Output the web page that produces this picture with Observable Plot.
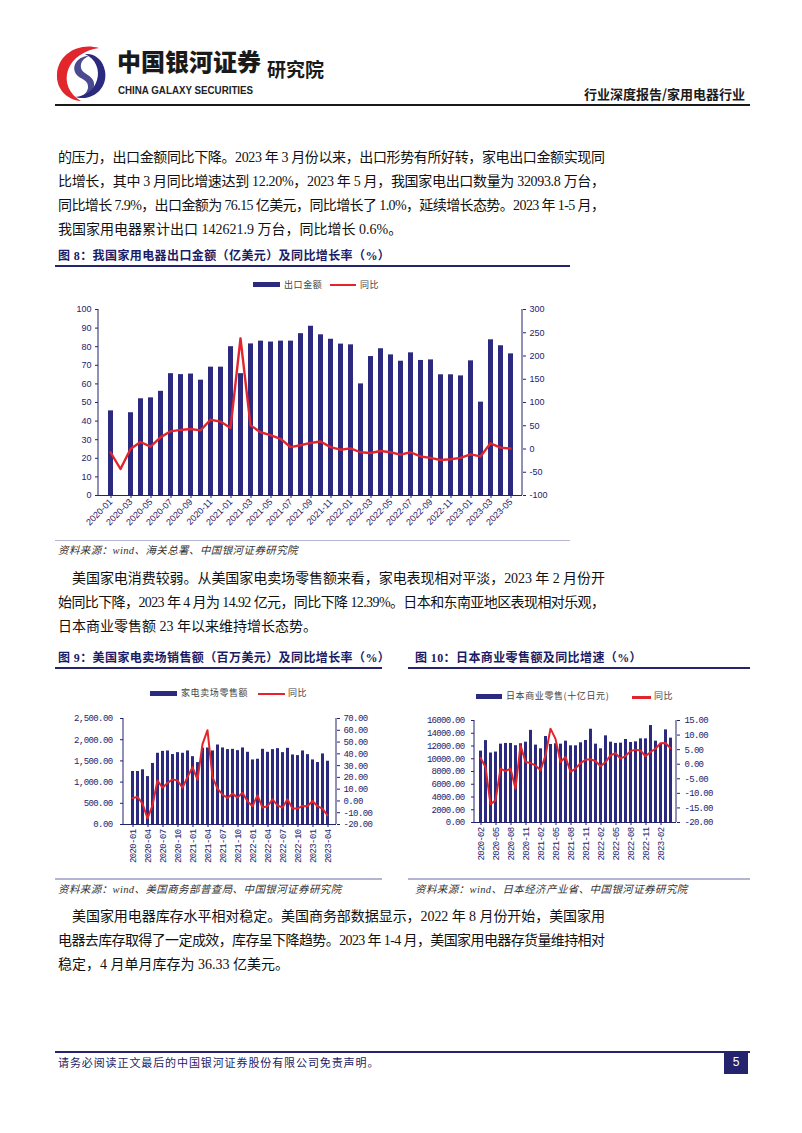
<!DOCTYPE html>
<html><head><meta charset="utf-8">
<script src="https://cdn.jsdelivr.net/npm/d3@7"></script>
<script src="https://cdn.jsdelivr.net/npm/@observablehq/plot@0.6"></script>
<style>
body{margin:0;background:#fff;}
#page{position:relative;width:802px;height:1133px;overflow:hidden;font-family:"Liberation Serif","Noto Sans CJK SC",serif;color:#111;}
.a{position:absolute;white-space:nowrap;}
.p{position:absolute;font-size:14px;line-height:16px;height:16px;white-space:nowrap;color:#111;}
.t{position:absolute;font-family:"Liberation Serif","Noto Sans CJK SC";font-weight:700;font-size:12px;line-height:14px;color:#1b1b66;letter-spacing:0.4px;white-space:nowrap;}
.src{position:absolute;font-family:"Liberation Serif","Noto Sans CJK SC";font-style:italic;font-size:10.5px;line-height:12px;color:#333;letter-spacing:0.4px;white-space:nowrap;}
.lg{position:absolute;font-family:"Noto Sans CJK SC";font-size:9px;line-height:10px;color:#444;white-space:nowrap;letter-spacing:0.6px;}
.hr{position:absolute;}
svg.plot, svg{overflow:visible;}
</style></head>
<body><div id="page"></div>
<script>
// ---------------- DATA ----------------
const months8 = ["2020-01","2020-02","2020-03","2020-04","2020-05","2020-06","2020-07","2020-08","2020-09","2020-10","2020-11","2020-12",
"2021-01","2021-02","2021-03","2021-04","2021-05","2021-06","2021-07","2021-08","2021-09","2021-10","2021-11","2021-12",
"2022-01","2022-02","2022-03","2022-04","2022-05","2022-06","2022-07","2022-08","2022-09","2022-10","2022-11","2022-12",
"2023-01","2023-02","2023-03","2023-04","2023-05"];
const exportValue8 = [45.5,null,44.5,52,52.5,56,65.5,65,65.3,62,69,69,
80,65.5,81.5,83,82.5,83,83,87,91,86.4,84,81.4,
81,60,74.7,78.9,75.6,72.2,76.7,72.6,72.9,64.9,64.9,64.3,
72.4,50.2,83.7,80.5,76.15];
const exportYoy8 = [-7,-43,0,15,5,25,38,41,43,40,63,59,
45,238,51,36,30,22,4,8,13,16,4,-1.5,
1.4,-7,-8.6,-4.3,-7,-12,-7,-16,-19,-23.6,-22,-19,
-11.5,-16,12.2,3,1.0];
const xTicks8 = ["2020-01","2020-03","2020-05","2020-07","2020-09","2020-11","2021-01","2021-03","2021-05","2021-07","2021-09","2021-11",
"2022-01","2022-03","2022-05","2022-07","2022-09","2022-11","2023-01","2023-03","2023-05"];
const yTicks8L = [0,10,20,30,40,50,60,70,80,90,100];
const yTicks8R = [-100,-50,0,50,100,150,200,250,300];

const months9 = ["2020-01","2020-02","2020-03","2020-04","2020-05","2020-06","2020-07","2020-08","2020-09","2020-10","2020-11","2020-12",
"2021-01","2021-02","2021-03","2021-04","2021-05","2021-06","2021-07","2021-08","2021-09","2021-10","2021-11","2021-12",
"2022-01","2022-02","2022-03","2022-04","2022-05","2022-06","2022-07","2022-08","2022-09","2022-10","2022-11","2022-12",
"2023-01","2023-02","2023-03","2023-04"];
const usSales9 = [1250,1250,1290,1130,1440,1680,1725,1735,1650,1695,1680,1735,
1600,1460,1800,1805,1735,1875,1805,1766,1773,1742,1805,1703,
1523,1539,1773,1703,1766,1789,1695,1797,1640,1625,1734,1648,
1523,1461,1664,1492];
const usYoy9 = [2.5,3.4,-2.2,-14.9,-3.7,17.4,11.2,15.2,18.3,17.4,11.2,20.2,
28.7,18,48.3,60.1,20.2,10.4,5.3,2.5,6.2,2.8,7.0,-0.3,
-4.5,4.8,-5.6,-4.5,1.4,-3.7,-5.6,1.4,-6.5,-6.5,-4.2,-4.5,
0,-4.5,-6.5,-12.39];
const xTicks9 = ["2020-01","2020-04","2020-07","2020-10","2021-01","2021-04","2021-07","2021-10","2022-01","2022-04","2022-07","2022-10","2023-01","2023-04"];
const yTicks9L = [0,500,1000,1500,2000,2500];
const yTicks9R = [-20,-10,0,10,20,30,40,50,60,70];

const months10 = ["2020-02","2020-03","2020-04","2020-05","2020-06","2020-07","2020-08","2020-09","2020-10","2020-11","2020-12",
"2021-01","2021-02","2021-03","2021-04","2021-05","2021-06","2021-07","2021-08","2021-09","2021-10","2021-11","2021-12",
"2022-01","2022-02","2022-03","2022-04","2022-05","2022-06","2022-07","2022-08","2022-09","2022-10","2022-11","2022-12",
"2023-01","2023-02","2023-03","2023-04"];
const jpRetail10 = [11200,12850,10900,11050,12290,12400,12400,12050,12350,12600,14450,
12140,11560,13490,12240,12350,12290,12760,12030,12030,12500,12860,14630,
12290,11560,13590,12600,12400,12450,13020,12550,12650,13120,13120,15210,
12760,12290,14530,13230];
const jpYoy10 = [2.2,-1,-13.7,-12.4,-1.5,-2.4,-1.5,-8.4,6.5,0.75,0.4,
-0.4,-2.1,3,12.2,8.7,0.75,2.5,-2.6,-1.5,0.4,1.5,1.7,
1.1,-0.7,0.75,3.0,3.8,1.9,2.8,4.5,5.0,4.7,2.7,4.2,
5.3,7.2,7.3,5.5];
const xTicks10 = ["2020-02","2020-05","2020-08","2020-11","2021-02","2021-05","2021-08","2021-11","2022-02","2022-05","2022-08","2022-11","2023-02"];
const yTicks10L = [0,2000,4000,6000,8000,10000,12000,14000,16000];
const yTicks10R = [-20,-15,-10,-5,0,5,10,15];

// ---------------- STYLE ----------------
const C_BAR = "#2B2A7E";
const C_LINE = "#E3252B";
const C_AX = "#23236E";
const page = document.getElementById("page");

function el(tag, cls, css, html){const e=document.createElement(tag); if(cls) e.className=cls; if(css) e.style.cssText=css; if(html!=null) e.innerHTML=html; page.appendChild(e); return e;}
function hr(x1,x2,y,h,color){el("div","hr",`left:${x1}px;top:${y}px;width:${x2-x1}px;height:${h}px;background:${color};`);}
function place(node,left,top){const w=document.createElement("div");w.style.cssText=`position:absolute;left:${left}px;top:${top}px;`;w.appendChild(node);page.appendChild(w);}

const edgeMark = (side) => (index, scales, values, dims) => {
  const {width, height, marginLeft, marginRight, marginTop, marginBottom} = dims;
  const x = side === "left" ? marginLeft : width - marginRight;
  return d3.create("svg:line").attr("x1", x).attr("x2", x).attr("y1", marginTop).attr("y2", height - marginBottom)
    .attr("stroke", C_AX).attr("stroke-width", 1).node();
};

function dual(o){
  const data = o.cats.map((c,i)=>({c, b:o.bars[i], l:o.line[i]}));
  const common = {width:o.width, height:o.height, marginLeft:o.mL, marginRight:o.mR, marginTop:o.mT, marginBottom:o.mB,
    style:{background:"transparent", color:C_AX, fontFamily:o.font, fontSize:o.fontSize+"px", letterSpacing:o.ls||"0px", overflow:"visible"}};
  const A = Plot.plot({...common,
    x:{type:"band", domain:o.cats, paddingInner:o.pi, paddingOuter:o.po, align:0.5, label:null},
    y:{domain:o.yL, label:null},
    marks:[
      Plot.barY(data.filter(d=>d.b!=null), {x:"c", y:"b", fill:C_BAR}),
      Plot.ruleY([o.yL[0]], {stroke:C_AX, strokeWidth:1}),
      edgeMark("left"),
      Plot.axisY(o.ticksL, {anchor:"left", tickSize:3, tickPadding:o.padL, tickFormat:o.fmtL, label:null}),
      Plot.axisX(o.xTicks, {anchor:"bottom", tickSize:3, tickPadding:o.padX, tickRotate:o.rot, label:null})
    ]});
  const B = Plot.plot({...common,
    x:{type:"point", domain:o.cats, padding:o.po + o.pi/2, align:0.5, axis:null},
    y:{domain:o.yR, label:null},
    marks:[
      Plot.line(data, {x:"c", y:"l", stroke:C_LINE, strokeWidth:o.lineW, strokeLinejoin:"round"}),
      edgeMark("right"),
      Plot.axisY(o.ticksR, {anchor:"right", tickSize:3, tickPadding:o.padR, tickFormat:o.fmtR, label:null})
    ]});
  place(A,o.left,o.top); place(B,o.left,o.top);
}

// ---------------- HEADER ----------------
el("div","a","left:55px;top:44px;width:54px;height:58px;",
`<svg width="54" height="58" viewBox="0 0 54 58">
<path d="M44 4 C24 -2 3 10 2 30 C1 45 12 56 26 57 C14 50 9 38 13 26 C17 14 30 6 44 4 Z" fill="#E1262C"/>
<path d="M20 53 C38 58 53 44 50 27 C48 15 39 9 30 10 C41 15 45 26 42 36 C39 46 31 52 20 53 Z" fill="#2B2A7E"/>
<path d="M34 12 C24 12 17 20 20 28 C23 36 34 34 33 44 C32 50 26 53 22 54 C33 54 40 47 39 39 C38 31 27 30 26 24 C25 18 29 14 34 12 Z" fill="#2B2A7E" opacity="0.85"/>
</svg>`);
el("div","a",`left:117px;top:46px;font-family:"Noto Sans CJK SC";font-weight:900;font-size:24px;line-height:30px;color:#1a1a1a;letter-spacing:0px;`,"中国银河证券");
el("div","a",`left:118px;top:84px;font-family:"Liberation Sans";font-weight:700;font-size:10.5px;line-height:12px;color:#222;letter-spacing:0px;transform:scaleX(0.93);transform-origin:left;`,"CHINA GALAXY SECURITIES");
el("div","a",`left:267px;top:57px;font-family:"Noto Sans CJK SC";font-weight:700;font-size:19px;line-height:24px;color:#1a1a1a;`,"研究院");
el("div","a",`right:57px;top:86px;font-family:"Noto Sans CJK SC";font-weight:700;font-size:13px;line-height:16px;color:#1a1a1a;`,"行业深度报告/家用电器行业");
hr(55,750,104,2,"#1a1a1a");

// ---------------- BODY TEXT (full lines are justified to the right edge) ----------------
const justified = [];
const P = (left,cy,txt,just)=>{const e=el("div","p",`left:${left}px;top:${cy-8}px;`,txt); if(just) justified.push({e, target:605-left, txt}); return e;};
function justify(){
  for (const j of justified){
    j.e.style.letterSpacing = "0px";
    const w = j.e.getBoundingClientRect().width;
    const n = [...j.txt].length;
    j.e.style.letterSpacing = ((j.target - w)/(n-1)) + "px";
  }
}
P(58,158,"的压力，出口金额同比下降。2023 年 3 月份以来，出口形势有所好转，家电出口金额实现同",true);
P(58,182,"比增长，其中 3 月同比增速达到 12.20%，2023 年 5 月，我国家电出口数量为 32093.8 万台，",true);
P(58,206,"同比增长 7.9%，出口金额为 76.15 亿美元，同比增长了 1.0%，延续增长态势。2023 年 1-5 月，",true);
P(58,230,"我国家用电器累计出口 142621.9 万台，同比增长 0.6%。",false);

// ---------------- FIGURE 8 ----------------
el("div","t","left:58px;top:249px;","图 8：我国家用电器出口金额（亿美元）及同比增长率（%）");
hr(55,570,265,2,"#23236E");
el("div","a",`left:253px;top:282px;width:27px;height:5px;background:${C_BAR};`);
el("div","lg","left:284px;top:280px;","出口金额");
el("div","a",`left:330px;top:284px;width:26px;height:2px;background:${C_LINE};`);
el("div","lg","left:360px;top:280px;","同比");
dual({left:50, top:300, width:520, height:240, mL:48, mR:48, mT:9, mB:45,
  cats:months8, bars:exportValue8, line:exportYoy8, yL:[0,100], yR:[-100,300],
  ticksL:yTicks8L, ticksR:yTicks8R, fmtL:d=>String(d), fmtR:d=>String(d),
  xTicks:xTicks8, rot:-45, pi:0.5, po:0.2, padL:4, padR:4, padX:2,
  font:"Liberation Sans", fontSize:9, lineW:2.4});
hr(55,570,540,1,"#B4B4D6");
el("div","src","left:58px;top:545px;","资料来源：wind、海关总署、中国银河证券研究院");

// ---------------- PARAGRAPH 2 ----------------
P(72,579,"美国家电消费较弱。从美国家电卖场零售额来看，家电表现相对平淡，2023 年 2 月份开",true);
P(58,603,"始同比下降，2023 年 4 月为 14.92 亿元，同比下降 12.39%。日本和东南亚地区表现相对乐观，",true);
P(58,627,"日本商业零售额 23 年以来维持增长态势。",false);

// ---------------- FIGURE 9 ----------------
el("div","t","left:58px;top:651px;","图 9：美国家电卖场销售额（百万美元）及同比增长率（%）");
hr(55,382,667,2,"#23236E");
el("div","a",`left:150px;top:691px;width:27px;height:5px;background:${C_BAR};`);
el("div","lg","left:181px;top:688px;","家电卖场零售额");
el("div","a",`left:258px;top:693px;width:27px;height:2px;background:${C_LINE};`);
el("div","lg","left:288px;top:688px;","同比");
const fmt2 = d => d.toFixed(2);
dual({left:58, top:705, width:330, height:165, mL:65, mR:52, mT:13, mB:46,
  cats:months9, bars:usSales9, line:usYoy9, yL:[0,2500], yR:[-20,70],
  ticksL:yTicks9L, ticksR:yTicks9R, fmtL:d=>d3.format(",.2f")(d), fmtR:fmt2,
  xTicks:xTicks9, rot:-90, pi:0.5, po:0.4, padL:8, padR:4, padX:2,
  font:"Liberation Mono", fontSize:9, ls:"-0.6px", lineW:2});
hr(55,382,878,1.5,"#B4B4D6");
el("div","src","left:58px;top:884px;","资料来源：wind、美国商务部普查局、中国银河证券研究院");

// ---------------- FIGURE 10 ----------------
el("div","t","left:415px;top:651px;","图 10：日本商业零售额及同比增速（%）");
hr(408,750,667,2,"#23236E");
el("div","a",`left:476px;top:694px;width:26px;height:5px;background:${C_BAR};`);
el("div","lg","left:506px;top:691px;","日本商业零售(十亿日元)");
el("div","a",`left:632px;top:696px;width:19px;height:2.5px;background:${C_LINE};`);
el("div","lg","left:654px;top:691px;","同比");
dual({left:410, top:705, width:330, height:165, mL:64, mR:64, mT:15, mB:48,
  cats:months10, bars:jpRetail10, line:jpYoy10, yL:[0,16000], yR:[-20,15],
  ticksL:yTicks10L, ticksR:yTicks10R, fmtL:fmt2, fmtR:fmt2,
  xTicks:xTicks10, rot:-90, pi:0.5, po:0.15, padL:7, padR:5, padX:2,
  font:"Liberation Mono", fontSize:9, ls:"-0.7px", lineW:2});
hr(408,750,878,1.5,"#B4B4D6");
el("div","src","left:415px;top:884px;","资料来源：wind、日本经济产业省、中国银河证券研究院");

// ---------------- PARAGRAPH 3 ----------------
P(72,917,"美国家用电器库存水平相对稳定。美国商务部数据显示，2022 年 8 月份开始，美国家用",true);
P(58,941,"电器去库存取得了一定成效，库存呈下降趋势。2023 年 1-4 月，美国家用电器存货量维持相对",true);
P(58,965,"稳定，4 月单月库存为 36.33 亿美元。",false);

justify();
if (document.fonts && document.fonts.ready) document.fonts.ready.then(justify);

// ---------------- FOOTER ----------------
hr(55,750,1051,2,"#23236E");
el("div","a",`left:58px;top:1055px;font-family:"Noto Sans CJK SC";font-size:11px;line-height:14px;color:#1b1b66;letter-spacing:0.9px;`,"请务必阅读正文最后的中国银河证券股份有限公司免责声明。");
el("div","a",`left:724px;top:1051px;width:24px;height:23px;background:#23236E;color:#fff;font-family:"Liberation Sans";font-size:12px;line-height:23px;text-align:center;`,"5");
</script>
</body></html>
